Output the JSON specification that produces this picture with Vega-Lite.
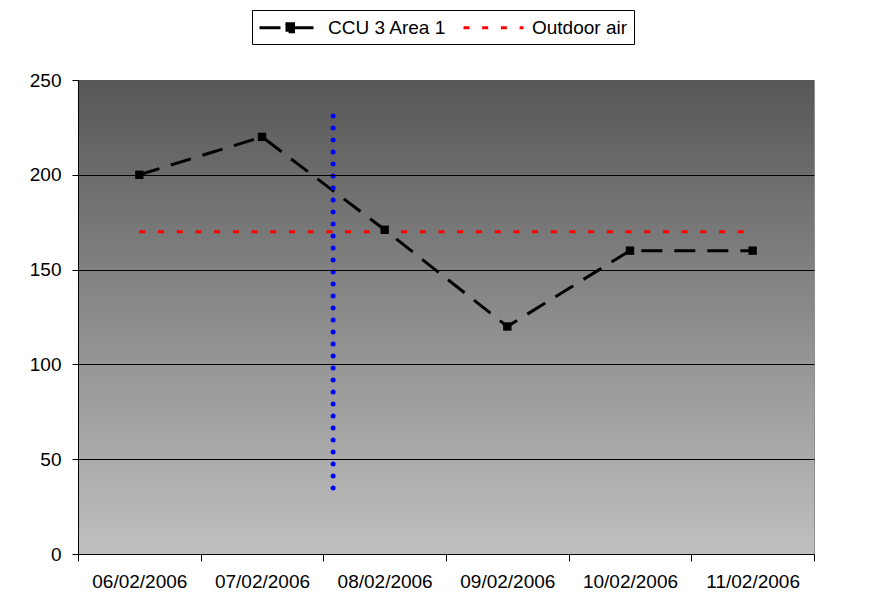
{
  "$schema": "https://vega.github.io/schema/vega-lite/v6.json",
  "width": 736,
  "height": 474,
  "autosize": {"type": "none"},
  "padding": {"left": 78, "top": 80, "right": 61, "bottom": 60},
  "background": "white",
  "config": {
    "font": "Liberation Sans",
    "view": {"stroke": "#8c8c8c", "strokeWidth": 1},
    "axis": {"labelFont": "Liberation Sans", "labelFontSize": 19, "labelColor": "black", "domainColor": "black", "tickColor": "black", "title": null}
  },
  "datasets": {
    "lines": [
      {"date": "06/02/2006", "i": 0.5, "v": 200, "series": "CCU 3 Area 1"},
      {"date": "07/02/2006", "i": 1.5, "v": 220, "series": "CCU 3 Area 1"},
      {"date": "08/02/2006", "i": 2.5, "v": 171, "series": "CCU 3 Area 1"},
      {"date": "09/02/2006", "i": 3.5, "v": 120, "series": "CCU 3 Area 1"},
      {"date": "10/02/2006", "i": 4.5, "v": 160, "series": "CCU 3 Area 1"},
      {"date": "11/02/2006", "i": 5.5, "v": 160, "series": "CCU 3 Area 1"},
      {"date": "06/02/2006", "i": 0.5, "v": 170, "series": "Outdoor air"},
      {"date": "11/02/2006", "i": 5.5, "v": 170, "series": "Outdoor air"}
    ],
    "marker": [
      {"i": 2.08, "lo": 34.8, "hi": 231.2}
    ]
  },
  "layer": [
    {
      "data": {"values": [{}]},
      "mark": {
        "type": "rect",
        "color": {"gradient": "linear", "x1": 0, "y1": 0, "x2": 0, "y2": 1,
          "stops": [{"offset": 0, "color": "#575757"}, {"offset": 1, "color": "#c0c0c0"}]}
      },
      "encoding": {
        "x": {"value": 0},
        "x2": {"value": "width"},
        "y": {"value": 0},
        "y2": {"value": "height"}
      }
    },
    {
      "data": {"name": "lines"},
      "mark": {"type": "line", "strokeWidth": 3},
      "encoding": {
        "x": {
          "field": "i", "type": "quantitative",
          "scale": {"domain": [0, 6], "nice": false, "zero": false},
          "axis": {
            "values": [0, 1, 2, 3, 4, 5, 6],
            "labelExpr": "['06/02/2006','07/02/2006','08/02/2006','09/02/2006','10/02/2006','11/02/2006',''][datum.value]",
            "labelOffset": 61.3,
            "labelAlign": "center",
            "labelBound": false,
            "labelOverlap": false,
            "labelFlush": false,
            "tickSize": 7,
            "labelPadding": 11,
            "grid": false
          }
        },
        "y": {
          "field": "v", "type": "quantitative",
          "scale": {"domain": [0, 250], "nice": false},
          "axis": {
            "values": [0, 50, 100, 150, 200, 250],
            "grid": true,
            "gridColor": {"condition": {"test": "datum.value === 250 || datum.value === 0", "value": "transparent"}, "value": "black"},
            "gridWidth": 1,
            "tickSize": 6,
            "labelPadding": 11,
            "zindex": 1
          }
        },
        "color": {
          "field": "series", "type": "nominal",
          "scale": {"domain": ["CCU 3 Area 1", "Outdoor air"], "range": ["black", "#ff0000"]},
          "legend": {
            "title": null,
            "orient": "none",
            "legendX": 174,
            "legendY": -70,
            "direction": "horizontal",
            "strokeColor": "black",
            "fillColor": "white",
            "padding": 6,
            "labelFont": "Liberation Sans",
            "labelFontSize": 19,
            "labelColor": "black",
            "symbolSize": 400,
            "symbolStrokeWidth": 3,
            "symbolType": "M-1,0H5",
            "labelOffset": 47,
            "columnPadding": 10,
            "encode": {
              "symbols": {
                "update": {
                  "shape": {"signal": "datum.value === 'CCU 3 Area 1' ? 'M-1,0H5M1.6,-0.4H2.4V0.4H1.6Z' : 'M-1,0H5'"},
                  "strokeDash": {"signal": "datum.value === 'CCU 3 Area 1' ? [1,0] : [6,13]"},
                  "fill": {"signal": "datum.value === 'CCU 3 Area 1' ? 'black' : 'transparent'"}
                }
              }
            }
          }
        },
        "strokeDash": {
          "field": "series", "type": "nominal",
          "scale": {"domain": ["CCU 3 Area 1", "Outdoor air"], "range": [[21, 12], [6, 12.7]]},
          "legend": null
        }
      }
    },
    {
      "data": {"name": "lines"},
      "transform": [{"filter": "datum.series === 'CCU 3 Area 1'"}],
      "mark": {"type": "point", "shape": "square", "filled": true, "color": "black", "size": 70, "opacity": 1},
      "encoding": {
        "x": {"field": "i", "type": "quantitative"},
        "y": {"field": "v", "type": "quantitative"}
      }
    },
    {
      "data": {"name": "marker"},
      "mark": {"type": "rule", "color": "#0000ff", "strokeWidth": 5, "strokeCap": "round", "strokeDash": [0.01, 11.99]},
      "encoding": {
        "x": {"field": "i", "type": "quantitative"},
        "y": {"field": "lo", "type": "quantitative"},
        "y2": {"field": "hi"}
      }
    }
  ]
}
